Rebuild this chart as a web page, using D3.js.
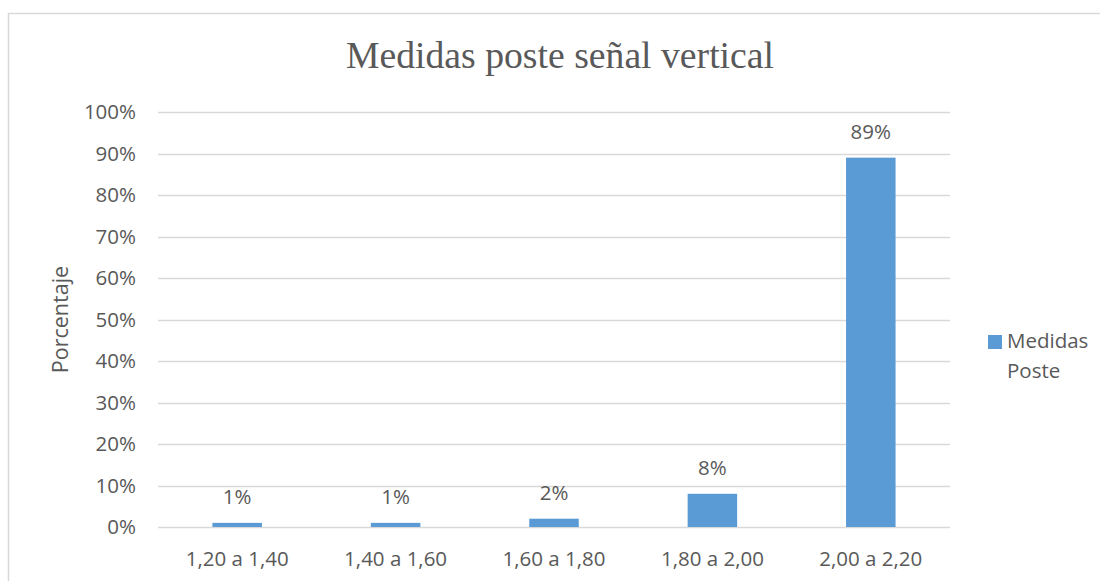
<!DOCTYPE html>
<html>
<head>
<meta charset="utf-8">
<script src="https://cdn.jsdelivr.net/npm/d3@7"></script>
<style>
  html, body { margin: 0; padding: 0; background: #fff; }
  svg { display: block; }
  text { font-family: "Open Sans", sans-serif; fill: #595959; }
</style>
</head>
<body>
<svg id="chart" width="1100" height="581"></svg>
<script>
// Pole length ranges and the share of signs in each
const categories = ["1,20 a 1,40", "1,40 a 1,60", "1,60 a 1,80", "1,80 a 2,00", "2,00 a 2,20"];
const values = [0.01, 0.01, 0.02, 0.08, 0.89];
const yTicks = [0, 0.1, 0.2, 0.3, 0.4, 0.5, 0.6, 0.7, 0.8, 0.9, 1.0];
const seriesName = ["Medidas", "Poste"];
const titleText = "Medidas poste señal vertical";
const yAxisTitle = "Porcentaje";

const svg = d3.select("#chart");
const W = 1100, H = 581;
const plot = { left: 158, right: 950, top: 112, bottom: 527 };
const fontSize = 20.5;
const pct = d3.format(".0%");

// chart frame
svg.append("rect")
  .attr("x", 8.5).attr("y", 13.5)
  .attr("width", W).attr("height", H)
  .attr("fill", "none").attr("stroke", "#d9d9d9").attr("stroke-width", 1.5);

const x = d3.scaleBand()
  .domain(categories)
  .range([plot.left, plot.right])
  .paddingInner(0.6875)
  .paddingOuter(0.34375);

const y = d3.scaleLinear().domain([0, 1]).range([plot.bottom, plot.top]);

// value axis labels
const yAxis = d3.axisLeft(y).tickValues(yTicks).tickFormat(pct).tickSize(0).tickPadding(22);
const gy = svg.append("g").attr("transform", `translate(${plot.left},0)`).call(yAxis);
gy.select(".domain").remove();
gy.selectAll("text").attr("font-size", fontSize).attr("fill", "#595959")
  .style("font-family", "'Open Sans', sans-serif");

// gridlines
svg.append("g").selectAll("line")
  .data(yTicks)
  .join("line")
  .attr("x1", plot.left).attr("x2", plot.right)
  .attr("y1", d => Math.round(y(d)) + 0.5).attr("y2", d => Math.round(y(d)) + 0.5)
  .attr("stroke", "#d9d9d9").attr("stroke-width", 1.5);

// bars
svg.append("g").selectAll("rect")
  .data(values)
  .join("rect")
  .attr("x", (d, i) => x(categories[i]))
  .attr("width", x.bandwidth())
  .attr("y", d => y(d))
  .attr("height", d => y(0) - y(d))
  .attr("fill", "#5b9bd5");

// value labels
svg.append("g").selectAll("text")
  .data(values)
  .join("text")
  .attr("x", (d, i) => x(categories[i]) + x.bandwidth() / 2)
  .attr("y", d => y(d) - 19)
  .attr("text-anchor", "middle")
  .attr("font-size", fontSize)
  .text(d => pct(d));

// category axis
const xAxis = d3.axisBottom(x).tickSize(0).tickPadding(0);
const gx = svg.append("g").attr("transform", `translate(0,${plot.bottom})`).call(xAxis);
gx.select(".domain").remove();
gx.selectAll("text")
  .attr("y", 39).attr("dy", 0)
  .attr("font-size", fontSize).attr("fill", "#595959")
  .style("font-family", "'Open Sans', sans-serif");

// title
svg.append("text")
  .attr("x", 560).attr("y", 68)
  .attr("text-anchor", "middle")
  .style("font-family", "'Liberation Serif', 'Times New Roman', serif")
  .attr("font-size", 37.7)
  .text(titleText);

// y axis title
svg.append("text")
  .attr("transform", `translate(68,${(plot.top + plot.bottom) / 2}) rotate(-90)`)
  .attr("text-anchor", "middle")
  .attr("font-size", 21.5)
  .text(yAxisTitle);

// legend
const lg = svg.append("g");
lg.append("rect").attr("x", 988).attr("y", 335).attr("width", 14).attr("height", 14).attr("fill", "#5b9bd5");
lg.selectAll("text")
  .data(seriesName)
  .join("text")
  .attr("x", 1007)
  .attr("y", (d, i) => 348 + i * 30)
  .attr("font-size", fontSize)
  .text(d => d);
</script>
</body>
</html>
